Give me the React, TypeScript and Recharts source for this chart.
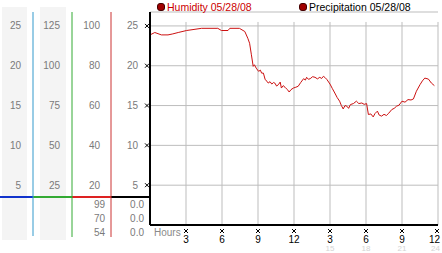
import { ComposedChart, Line, XAxis, YAxis, CartesianGrid, ReferenceLine } from 'recharts';

// humidity trace (hour of day, % relative humidity)
const hours = [
  0, 0.4, 0.95, 1.5, 1.9, 2.35, 3.05, 4.3, 5.65, 5.95, 6.5, 6.65, 7.45, 7.9, 8.15, 8.3, 8.45, 8.6, 8.7, 8.85,
  9.05, 9.2, 9.3, 9.45, 9.6, 9.75, 9.85, 10.0, 10.15, 10.3, 10.4, 10.55, 10.7, 10.85, 10.95, 11.1, 11.25, 11.45,
  11.6, 11.75, 11.95, 12.15, 12.35, 12.55, 12.8, 12.95, 13.05, 13.2, 13.35, 13.55, 13.75, 13.95, 14.15, 14.3,
  14.45, 14.6, 14.75, 15.0, 15.2, 15.4, 15.6, 15.8, 15.95, 16.1, 16.25, 16.4, 16.55, 16.7, 16.95, 17.2, 17.4,
  17.65, 17.85, 18.05, 18.2, 18.4, 18.6, 18.75, 18.95, 19.1, 19.3, 19.5, 19.7, 19.9, 20.15, 20.35, 20.55, 20.75,
  21.0, 21.25, 21.5, 21.75, 21.95, 22.2, 22.5, 22.7, 22.9, 23.2, 23.45, 23.7,
];
const humidity = [
  95.5, 96.7, 95.5, 95.5, 96, 96.7, 97.7, 98.8, 98.8, 97.7, 97.7, 98.8, 98.8, 97.2, 93.8, 91.3, 85.5, 79.7, 80.5, 78.8,
  77.2, 77.8, 76.3, 76.3, 73, 72.2, 71.3, 72, 70.8, 71.6, 71.3, 69.8, 70.5, 71.8, 68.8, 70, 69.2, 68,
  66.8, 68, 68.8, 69.2, 69.7, 71.5, 73.5, 72.8, 74.2, 73.2, 73.5, 74.5, 74.2, 73.4, 74.2, 73.6,
  74.7, 74, 73, 70.8, 68.5, 66.3, 64, 62.2, 60, 58.3, 60, 59.7, 58.6, 60.5, 61, 62.2, 61,
  61.3, 60.6, 61, 55.5, 55.8, 54.3, 56, 57.2, 55.2, 54.7, 55.6, 55, 56.2, 58, 58.6, 59.7, 60.2,
  62.2, 61.7, 63, 62.8, 63.3, 67.2, 70.5, 72.4, 73.8, 73.3, 71.3, 70,
];

const hourTicks = [3, 6, 9, 12, 15, 18, 21, 24];
const clockLabels = ['3', '6', '9', '12', '3', '6', '9', '12'];
const dayLabels = ['', '', '', '', '15', '18', '21', '24'];

const scaleTicks = [5, 10, 15, 20, 25];
const wideTicks = [25, 50, 75, 100, 125];
const humidityTicks = [20, 40, 60, 80, 100];

const humidityReadings = ['99', '70', '54'];
const precipReadings = ['0.0', '0.0', '0.0'];

const legendItems = [
  { name: 'Humidity 05/28/08', color: '#cc0000' },
  { name: 'Precipitation 05/28/08', color: '#000000' },
];

const data = hours.map((hour, i) => ({ hour, humidity: humidity[i] }));

const FONT = '"Liberation Sans", Arial, sans-serif';
const GRAY = '#7a7a7a';

function Marker({ cx, cy }: { cx: number; cy: number }) {
  return (
    <path d={`M${cx - 2},${cy - 2}L${cx + 2},${cy + 2}M${cx + 2},${cy - 2}L${cx - 2},${cy + 2}`} stroke="#000" strokeWidth={1} />
  );
}

function SideTick({ x, y, payload }: any) {
  return (
    <text x={x} y={y} dy={3.5} textAnchor="end" fill={GRAY} fontSize={10} fontFamily={FONT}>
      {payload.value}
    </text>
  );
}

function MainTick({ x, y, payload }: any) {
  return (
    <g>
      <text x={x} y={y} dy={3.5} textAnchor="end" fill={GRAY} fontSize={10} fontFamily={FONT}>
        {payload.value}
      </text>
      <Marker cx={x + 9} cy={y} />
    </g>
  );
}

function HourTick({ x, y, payload }: any) {
  const i = hourTicks.indexOf(payload.value);
  const last = i === hourTicks.length - 1;
  return (
    <g>
      <Marker cx={last ? x - 1 : x} cy={y + 6} />
      <text x={last ? x + 2 : x} y={y + 17.5} textAnchor={last ? 'end' : 'middle'} fill="#000" fontSize={10} fontFamily={FONT}>
        {clockLabels[i]}
      </text>
      <text x={last ? x + 2 : x} y={y + 26} textAnchor={last ? 'end' : 'middle'} fill="#d4d4d4" fontSize={8} fontFamily={FONT}>
        {dayLabels[i]}
      </text>
    </g>
  );
}

// axis ids sort alphabetically: "a" sits next to the plot, "d" at the far left
export default function App() {
  return (
    <div style={{ position: 'absolute', left: 0, top: 0, width: 442, height: 253, background: '#fff', fontFamily: FONT }}>
      {/* side panels behind the chart */}
      <svg width={442} height={253} style={{ position: 'absolute', left: 0, top: 0 }}>
        <rect x={2} y={7} width={25} height={233} fill="#f4f4f4" />
        <rect x={40} y={7} width={26} height={233} fill="#f4f4f4" />
        <line x1={33} y1={225} x2={33} y2={236} stroke="#3399cc" strokeWidth={1} />
        <line x1={72} y1={225} x2={72} y2={237} stroke="#33aa33" strokeWidth={1} />
        <line x1={111} y1={225} x2={111} y2={237} stroke="#cc3333" strokeWidth={1} />
        <line x1={0} y1={197} x2={33} y2={197} stroke="#1133cc" strokeWidth={2} />
        <line x1={33} y1={197} x2={72} y2={197} stroke="#33aa33" strokeWidth={2} />
        <line x1={72} y1={197} x2={111} y2={197} stroke="#dd2222" strokeWidth={2} />
        <line x1={111} y1={197} x2={150} y2={197} stroke="#000" strokeWidth={2} />
        {humidityReadings.map((v, i) => (
          <text key={'h' + i} x={105} y={207.5 + i * 14} textAnchor="end" fill={GRAY} fontSize={10} fontFamily={FONT}>
            {v}
          </text>
        ))}
        {precipReadings.map((v, i) => (
          <text key={'p' + i} x={144} y={207.5 + i * 14} textAnchor="end" fill={GRAY} fontSize={10} fontFamily={FONT}>
            {v}
          </text>
        ))}
      </svg>

      <div style={{ position: 'absolute', left: 0, top: 0 }}>
        <ComposedChart width={442} height={253} data={data} margin={{ top: 12, right: 4, bottom: 0, left: 0 }}>
          <CartesianGrid yAxisId="a_main" vertical={false} stroke="#bdbdbd" />
          {hourTicks.map((h) => (
            <ReferenceLine
              key={h}
              yAxisId="a_main"
              segment={[{ x: h, y: 0 }, { x: h, y: 25.5 }]}
              stroke="#bdbdbd"
            />
          ))}
          <XAxis
            dataKey="hour"
            type="number"
            domain={[0, 24]}
            allowDataOverflow
            ticks={hourTicks}
            interval={0}
            height={28}
            tickLine={false}
            tickSize={0}
            tickMargin={0}
            axisLine={{ stroke: '#000', strokeWidth: 2 }}
            tick={<HourTick />}
            label={{ value: 'Hours', position: 'insideTopLeft', offset: 4, fill: '#8a8a8a', fontSize: 10, fontFamily: FONT }}
          />
          <YAxis
            yAxisId="a_main"
            orientation="left"
            width={39}
            domain={[0, 26.75]}
            allowDataOverflow
            ticks={scaleTicks}
            interval={0}
            tickLine={false}
            tickSize={6}
            tickMargin={6}
            axisLine={{ stroke: '#000', strokeWidth: 2 }}
            tick={<MainTick />}
          />
          <YAxis
            yAxisId="b_hum"
            orientation="left"
            width={39}
            domain={[0, 107]}
            allowDataOverflow
            ticks={humidityTicks}
            interval={0}
            tickLine={false}
            tickSize={6}
            tickMargin={5}
            axisLine={{ stroke: '#cc3333' }}
            tick={<SideTick />}
          />
          <YAxis
            yAxisId="c_wide"
            orientation="left"
            width={39}
            domain={[0, 133.75]}
            allowDataOverflow
            ticks={wideTicks}
            interval={0}
            tickLine={false}
            tickSize={6}
            tickMargin={6}
            axisLine={{ stroke: '#33aa33' }}
            tick={<SideTick />}
          />
          <YAxis
            yAxisId="d_small"
            orientation="left"
            width={33}
            domain={[0, 26.75]}
            allowDataOverflow
            ticks={scaleTicks}
            interval={0}
            tickLine={false}
            tickSize={6}
            tickMargin={6}
            axisLine={{ stroke: '#3399cc' }}
            tick={<SideTick />}
          />
          <Line
            yAxisId="b_hum"
            dataKey="humidity"
            type="linear"
            stroke="#cc1111"
            strokeWidth={1}
            dot={false}
            isAnimationActive={false}
          />
        </ComposedChart>
      </div>

      {/* legend strip */}
      <div style={{ position: 'absolute', top: 0, left: 0, width: 442, height: 14, fontSize: 10.5 }}>
        {legendItems.map((item, i) => (
          <div
            key={item.name}
            style={{ position: 'absolute', left: i === 0 ? 157 : 299, top: 0, display: 'flex', alignItems: 'center', height: 13, whiteSpace: 'nowrap' }}
          >
            <span style={{ width: 6, height: 6, borderRadius: 3, background: '#a00000', border: '0.5px solid #400', marginRight: 2, display: 'inline-block' }} />
            <span style={{ color: item.color }}>{item.name}</span>
          </div>
        ))}
      </div>
    </div>
  );
}
